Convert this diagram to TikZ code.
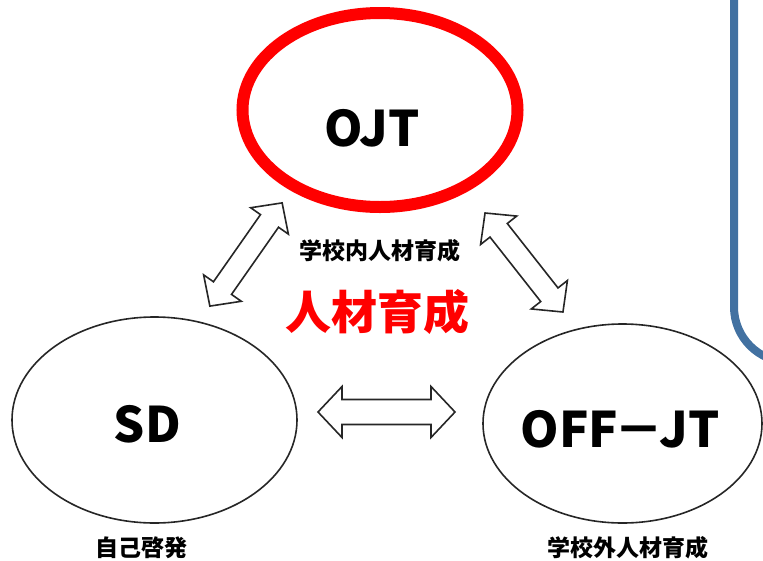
\documentclass[tikz,border=0pt]{standalone}
\usepackage{fontspec}
\setmainfont{Noto Sans CJK JP}[BoldFont={Noto Sans CJK JP Black}]
\usetikzlibrary{shapes.geometric}
\definecolor{frameblue}{RGB}{66,113,161}
\tikzset{
  bubble/.style={draw=black!85, line width=1.6pt, ellipse, inner sep=0pt},
  arrowbox/.style={draw=black!85, line width=1.6pt, fill=white, line join=miter},
  bigtxt/.style={font=\bfseries\fontsize{49}{52}\selectfont},
  subtxt/.style={font=\bfseries\fontsize{23}{26}\selectfont},
}
% hollow double arrow: centre, angle, half length, half shaft, half head, head length
\newcommand{\dblarrow}[6]{%
  \draw[arrowbox, shift={#1}, rotate=#2]
    (-#3,0) -- (-#3+#6,#5) -- (-#3+#6,#4) -- (#3-#6,#4) -- (#3-#6,#5) -- (#3,0)
    -- (#3-#6,-#5) -- (#3-#6,-#4) -- (-#3+#6,-#4) -- (-#3+#6,-#5) -- cycle;}
\begin{document}
\begin{tikzpicture}[x=1pt,y=-1pt]
  \useasboundingbox (0,0) rectangle (763,560);
  \begin{scope}
    \clip (0,0) rectangle (763,560);
    \draw[frameblue, line width=8pt, rounded corners=55pt] (734,-20) -- (734,362) -- (820,362);
  \end{scope}
  % bubbles
  \node[bubble, draw=red, line width=12pt, minimum width=275pt, minimum height=194pt] (ojt) at (380,110) {};
  \node[bubble, minimum width=285pt, minimum height=206pt] (sd) at (154.5,420) {};
  \node[bubble, minimum width=279pt, minimum height=199pt] (off) at (622.5,423.5) {};
  \node[bigtxt] (ojtlabel) at (372,128) {OJT};
  \node[bigtxt] (sdlabel) at (147.5,424.5) {SD};
  \node[bigtxt] (offlabel) at (620,429.5) {OFF\kern-4pt－\kern-4pt JT};
  % captions
  \node[subtxt] (inside) at (380,251) {学校内人材育成};
  \node[text=red, font=\bfseries\fontsize{46}{50}\selectfont] (core) at (377,312) {人材育成};
  \node[subtxt] (self) at (141,548) {自己啓発};
  \node[subtxt] (outside) at (628,548) {学校外人材育成};
  % arrows
  \dblarrow{(386.5,412)}{0}{68.5}{12.5}{25.5}{24}
  \dblarrow{(246,254.5)}{55}{63}{11}{23}{22}
  \dblarrow{(524,262.5)}{128.2}{63}{11}{23}{22}
\end{tikzpicture}
\end{document}
